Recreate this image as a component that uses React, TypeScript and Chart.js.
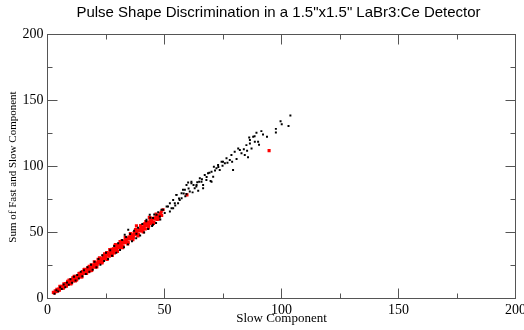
import React, { useEffect, useRef } from "react";
import { Chart, registerables } from "chart.js";

Chart.register(...registerables);

const chartTitle = 'Pulse Shape Discrimination in a 1.5"x1.5" LaBr3:Ce Detector';
const xTitle = "Slow Component";
const yTitle = "Sum of Fast and Slow Component";
const axisMin = 0;
const axisMax = 200;
const labelStep = 50;
const minorStep = 25;

const blackSlow = [
  3.0, 3.8, 4.6, 5.4, 6.1, 6.9, 7.6, 8.3, 9.1, 9.8, 10.5, 11.3, 12.0, 12.7, 13.4, 14.2, 14.9, 15.6, 16.4, 17.1,
  17.9, 18.6, 19.3, 20.1, 20.9, 21.8, 22.6, 23.4, 24.2, 25.0, 25.9, 26.8, 27.6, 28.5, 29.4, 30.2, 31.0, 31.9, 32.7, 33.6,
  34.4, 35.3, 36.1, 37.0, 37.9, 38.7, 39.6, 40.5, 41.3, 42.2, 43.0, 43.9, 44.7, 45.6, 46.4, 47.3, 48.2, 33.0, 34.5, 42.3,
  43.7, 45.1, 38.0,
  45.1, 46.6, 48.0, 48.7, 50.1, 50.9, 52.3, 52.3, 53.7, 53.7, 55.8, 55.1, 57.3, 57.9, 59.4, 60.8, 61.5, 63.6, 65.1, 67.2,
  56.5, 54.4, 51.5, 53.0, 49.4, 58.7, 60.1, 62.9, 64.4, 66.5, 68.6, 69.7, 70.1, 70.8, 72.2, 72.9, 73.6, 74.4, 75.0, 75.8,
  76.5, 77.9, 78.6, 78.9, 79.3, 80.0, 80.8, 81.5, 82.2, 82.9, 83.9, 84.3, 85.0, 85.3, 85.7, 86.2, 86.5, 86.5, 87.2, 87.9,
  88.5, 88.6, 89.3, 90.0, 90.4, 91.4, 92.1, 93.8, 97.6, 97.6, 99.6, 100.1, 103.0, 103.8, 66.5, 65.8, 67.9, 70.1, 71.1, 61.5,
  63.7, 59.4, 57.3, 55.1, 64.8, 56.2, 58.2, 60.3, 62.4, 64.0, 66.0, 68.0, 69.2, 71.6, 73.0, 74.8, 76.9, 58.9, 62.0, 54.6,
];
const blackSum = [
  3.6, 6.2, 5.4, 8.6, 7.2, 10.6, 8.6, 12.2, 10.4, 14.6, 12.0, 16.4, 13.6, 17.8, 15.2, 20.2, 16.8, 21.4, 18.6, 23.6,
  20.2, 25.6, 21.8, 27.8, 23.6, 30.0, 25.6, 32.8, 28.4, 34.6, 29.9, 36.6, 32.3, 39.8, 34.6, 41.8, 36.8, 44.4, 38.9, 46.6,
  41.0, 48.8, 43.3, 51.4, 45.6, 53.6, 47.8, 56.4, 50.0, 58.6, 52.6, 61.2, 55.0, 63.6, 57.2, 65.4, 59.8, 48.3, 52.0, 59.6,
  63.4, 55.8, 49.0,
  60.9, 63.4, 62.1, 67.2, 64.7, 69.7, 65.9, 72.2, 68.4, 74.7, 72.2, 78.5, 76.0, 82.3, 86.0, 81.0, 88.5, 84.8, 91.1, 93.6,
  74.7, 72.2, 69.7, 68.4, 67.2, 82.3, 87.8, 83.5, 81.7, 83.5, 94.9, 89.1, 96.1, 92.3, 98.6, 101.1, 97.4, 103.6, 103.6, 102.4,
  106.2, 104.9, 108.7, 103.6, 97.4, 111.2, 105.7, 113.7, 112.5, 110.0, 113.0, 108.7, 116.2, 112.0, 107.0, 122.0, 117.5, 120.0, 113.7, 122.5,
  123.0, 118.7, 125.5, 118.7, 116.5, 126.8, 124.3, 122.5, 128.5, 125.8, 134.3, 132.0, 130.6, 138.6, 86.0, 88.5, 89.8, 88.5, 99.8, 87.3,
  86.0, 79.2, 79.8, 78.5, 88.5, 75.8, 79.6, 83.4, 85.9, 88.0, 90.4, 92.0, 95.3, 97.0, 99.6, 100.6, 102.9, 77.4, 80.4, 70.4,
];

const redSlow = [
  2.5, 2.9, 3.3, 3.6, 4.0, 4.3, 4.8, 5.1, 5.5, 5.9, 6.2, 6.6, 7.0, 7.3, 7.7, 8.1, 8.4, 8.8, 9.2, 9.5,
  9.9, 10.3, 10.6, 11.0, 11.4, 11.7, 12.1, 12.5, 12.8, 13.2, 13.6, 13.9, 14.3, 14.7, 15.0, 15.4, 15.8, 16.1, 16.5, 16.9,
  17.2, 17.6, 18.0, 18.3, 18.7, 19.1, 19.4, 19.8, 20.2, 20.5, 20.9, 21.3, 21.6, 22.0, 22.4, 22.7, 23.1, 23.5, 23.8, 24.2,
  24.6, 24.9, 25.3, 25.7, 26.0, 26.4, 26.8, 27.1, 27.5, 27.9, 28.2, 28.6, 29.0, 29.3, 29.7, 30.1, 30.4, 30.8, 31.2, 31.5,
  31.9, 32.3, 32.6, 33.0, 33.4, 33.7, 34.1, 34.5, 34.8, 35.2, 35.6, 35.9, 36.3, 36.7, 37.0, 37.4, 37.8, 38.1, 38.5, 38.9,
  39.2, 39.6, 40.0, 40.3, 40.7, 41.1, 41.4, 41.8, 42.2, 42.5, 42.9, 43.3, 43.6, 44.0, 44.4, 44.7, 45.1, 45.5, 45.8, 46.2,
  46.6, 46.9, 47.3, 47.7, 48.0, 48.4, 48.8,
  6.4, 7.9, 9.0, 10.8, 11.9, 13.0, 14.1, 15.2, 16.3, 17.4, 18.5, 19.6, 20.7, 21.8, 22.9, 24.0, 25.1, 26.2, 27.3, 28.4,
  29.5, 30.6, 31.7, 32.8, 33.9, 35.0, 36.1, 37.2, 38.3, 39.4, 40.5, 41.6, 42.7, 43.8, 44.9, 46.0, 47.1, 48.2,
  5.3, 6.8, 8.6, 10.0, 11.2, 12.3, 13.5, 14.6, 15.6, 16.7, 17.8, 18.9, 20.0, 21.1, 22.2, 23.3, 24.4, 25.5, 26.6, 27.7,
  28.8, 29.9, 31.0, 32.1, 33.2, 34.3, 35.4, 36.5, 37.6, 38.7, 39.8, 40.9, 42.0, 43.1, 44.2, 45.3, 46.4, 47.5, 48.6,
  4.6, 5.7, 6.9, 8.0, 9.4, 10.5, 11.6, 12.7, 13.8, 14.9, 16.0, 17.1, 18.2, 19.3, 20.4, 21.5, 22.6, 23.7, 24.8, 25.9,
  27.0, 28.1, 29.2, 30.3, 31.4, 32.5, 33.6, 34.7, 35.8, 36.9, 38.0, 39.1, 40.2, 41.3, 42.4, 43.5, 44.6, 45.7, 46.8,
  49.4, 59.6, 94.7, 43.5, 29.0, 38.0,
];
const redSum = [
  4.6, 4.2, 5.8, 5.2, 7.0, 5.6, 7.2, 6.3, 9.1, 7.9, 9.3, 7.8, 11.2, 9.7, 11.3, 9.4, 11.6, 10.8, 14.0, 12.2,
  14.1, 11.8, 14.3, 13.3, 16.8, 14.7, 16.8, 14.2, 17.0, 16.1, 19.0, 16.5, 18.4, 16.6, 20.4, 18.9, 22.1, 18.9, 21.6, 21.0,
  23.2, 20.3, 22.9, 22.0, 25.5, 22.5, 25.1, 24.4, 27.0, 23.8, 26.7, 26.0, 29.7, 27.4, 29.6, 27.2, 30.0, 27.8, 32.2, 30.2,
  31.7, 30.5, 34.8, 32.8, 34.4, 32.0, 34.9, 33.8, 37.3, 35.3, 37.7, 34.6, 37.5, 36.6, 40.4, 38.5, 40.1, 38.3, 41.9, 40.0,
  43.9, 39.9, 42.7, 42.6, 45.1, 42.3, 45.3, 42.5, 46.5, 45.2, 48.6, 45.7, 47.7, 46.1, 49.9, 48.7, 51.8, 48.5, 51.1, 48.7,
  52.7, 51.4, 54.3, 51.2, 53.9, 52.9, 56.6, 52.7, 56.3, 55.4, 57.8, 55.2, 57.5, 56.9, 60.4, 57.4, 60.3, 57.6, 60.9, 60.2,
  62.7, 59.9, 62.7, 61.7, 63.4, 63.0, 62.9,
  8.2, 11.4, 11.8, 15.6, 13.3, 16.9, 16.7, 20.0, 20.4, 23.4, 21.1, 24.7, 25.0, 28.4, 29.0, 32.2, 30.1, 33.9, 33.9, 37.4,
  38.0, 41.2, 39.1, 42.9, 42.9, 46.4, 47.0, 50.2, 48.1, 51.9, 51.9, 55.4, 56.0, 59.2, 57.1, 60.9, 60.9, 64.4,
  9.2, 8.0, 13.0, 11.1, 15.9, 14.0, 18.9, 16.4, 21.7, 19.0, 24.3, 21.2, 27.8, 24.0, 30.8, 26.9, 33.9, 29.6, 37.0, 32.6,
  40.0, 35.6, 43.1, 38.4, 46.3, 41.4, 49.2, 44.5, 52.3, 47.3, 55.3, 50.4, 58.3, 53.5, 61.0, 56.8, 63.9, 60.3, 65.5,
  6.8, 8.1, 9.0, 11.0, 12.0, 13.9, 14.6, 16.6, 17.6, 19.3, 20.3, 21.7, 23.1, 24.1, 25.6, 27.5, 28.6, 30.5, 31.5, 33.5,
  34.5, 36.5, 37.6, 39.5, 40.4, 42.5, 43.5, 45.5, 46.4, 48.5, 49.4, 51.4, 52.4, 54.4, 55.4, 57.4, 58.4, 60.4, 61.4,
  67.2, 78.5, 112.0, 61.5, 40.8, 55.0,
];

function pairs(xs: number[], ys: number[]) {
  const n = Math.min(xs.length, ys.length);
  const out: { x: number; y: number }[] = [];
  for (let i = 0; i < n; i++) out.push({ x: xs[i], y: ys[i] });
  return out;
}

const AXIS_COLOR = "#555555";

const framePlugin = {
  id: "frameTicks",
  afterDraw(chart: any) {
    const { ctx, chartArea, scales } = chart;
    const { left, right, top, bottom } = chartArea;
    const xs = scales.x;
    const ys = scales.y;
    ctx.save();
    ctx.strokeStyle = AXIS_COLOR;
    ctx.lineWidth = 1;
    ctx.strokeRect(left, top, right - left, bottom - top);
    ctx.beginPath();
    for (let v = axisMin; v <= axisMax; v += minorStep) {
      const major = v % labelStep === 0;
      const len = major ? 10 : 5;
      const px = Math.round(xs.getPixelForValue(v) - 0.5) + 0.5;
      const py = Math.round(ys.getPixelForValue(v) - 0.5) + 0.5;
      ctx.moveTo(px, bottom);
      ctx.lineTo(px, bottom - len);
      ctx.moveTo(px, top);
      ctx.lineTo(px, top + len);
      ctx.moveTo(left, py);
      ctx.lineTo(left + len, py);
      ctx.moveTo(right, py);
      ctx.lineTo(right - len, py);
    }
    ctx.stroke();

    ctx.fillStyle = "#000";
    ctx.textAlign = "center";
    ctx.textBaseline = "middle";
    ctx.font = '15px "Liberation Sans"';
    ctx.fillText(chartTitle, 278.5, 13);
    ctx.font = '13px "Liberation Serif"';
    ctx.fillText(xTitle, (left + right) / 2, 318.5);
    ctx.translate(13, 167);
    ctx.rotate(-Math.PI / 2);
    ctx.font = '11px "Liberation Serif"';
    ctx.fillText(yTitle, 0, 0);
    ctx.restore();
  },
};

export default function App() {
  const ref = useRef<HTMLCanvasElement | null>(null);
  useEffect(() => {
    document.body.style.margin = "0";
    const canvas = ref.current;
    if (!canvas) return;
    const chart = new Chart(canvas, {
      type: "scatter",
      data: {
        datasets: [
          {
            label: "all",
            data: pairs(blackSlow, blackSum),
            backgroundColor: "#000000",
            borderWidth: 0,
            pointStyle: "rect",
            pointRadius: 1.4,
          },
          {
            label: "selected",
            data: pairs(redSlow, redSum),
            backgroundColor: "#ff0000",
            borderWidth: 0,
            pointStyle: "rect",
            pointRadius: 2.2,
          },
        ],
      },
      options: {
        animation: false,
        responsive: false,
        devicePixelRatio: 1,
        layout: { padding: { top: 34.5, right: 8.5, left: 0, bottom: 0 } },
        plugins: { legend: { display: false }, tooltip: { enabled: false }, title: { display: false } },
        scales: {
          x: {
            type: "linear",
            min: axisMin,
            max: axisMax,
            grid: { display: false, drawTicks: false },
            border: { display: false },
            ticks: {
              stepSize: labelStep,
              padding: 3,
              color: "#000",
              maxRotation: 0,
              font: { family: "Liberation Serif", size: 14 },
            },
            afterFit(scale: any) {
              scale.height = 31.5;
              scale.paddingLeft = 0;
              scale.paddingRight = 0;
            },
          },
          y: {
            type: "linear",
            min: axisMin,
            max: axisMax,
            grid: { display: false, drawTicks: false },
            border: { display: false },
            ticks: {
              stepSize: labelStep,
              padding: 4,
              color: "#000",
              font: { family: "Liberation Serif", size: 14 },
            },
            afterFit(scale: any) {
              scale.width = 47.5;
              scale.paddingTop = 0;
              scale.paddingBottom = 0;
            },
          },
        },
      },
      plugins: [framePlugin],
    });
    return () => chart.destroy();
  }, []);
  return (
    <div style={{ position: "absolute", left: 0, top: 0, width: 524, height: 330, background: "#fff" }}>
      <canvas ref={ref} width={524} height={330} style={{ display: "block" }} />
    </div>
  );
}
